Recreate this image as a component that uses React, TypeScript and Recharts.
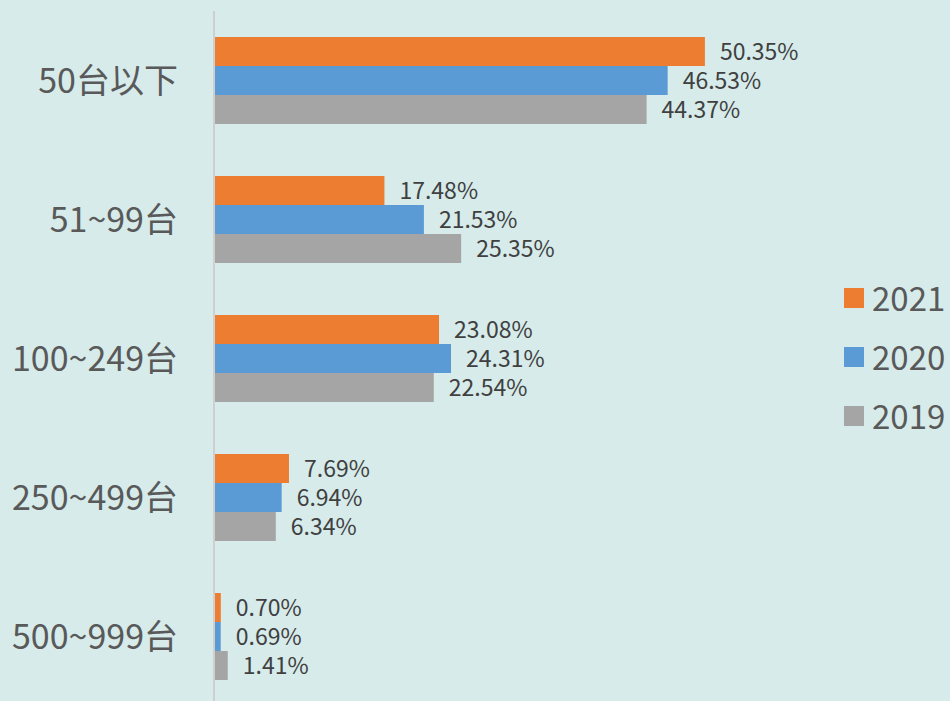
import React from "react";
import { BarChart, Bar, XAxis, YAxis, LabelList } from "recharts";

const categories = ["50台以下", "51~99台", "100~249台", "250~499台", "500~999台"];
const values2021 = [50.35, 17.48, 23.08, 7.69, 0.7];
const values2020 = [46.53, 21.53, 24.31, 6.94, 0.69];
const values2019 = [44.37, 25.35, 22.54, 6.34, 1.41];
const seriesNames = ["2021", "2020", "2019"];
const colors = ["#ED7D31", "#5B9BD5", "#A5A5A5"];

const data = categories.map((name, i) => ({
  name,
  y2021: values2021[i],
  y2020: values2020[i],
  y2019: values2019[i],
}));

const FONT = '"Noto Sans CJK TC", "Noto Sans", sans-serif';
const fmt = (v: any) => `${Number(v).toFixed(2)}%`;

const LegendBox = () => (
  <div style={{ position: "absolute", left: 844, top: 268, fontFamily: FONT }}>
    {seriesNames.map((n, i) => (
      <div key={n} style={{ display: "flex", alignItems: "center", height: 59 }}>
        <div style={{ width: 20, height: 20, background: colors[i], marginRight: 8 }} />
        <span style={{ fontSize: 33, color: "#595959", lineHeight: "33px" }}>{n}</span>
      </div>
    ))}
  </div>
);

export default function App() {
  const keys = ["y2021", "y2020", "y2019"];
  return (
    <div
      style={{
        position: "fixed",
        left: 0,
        top: 0,
        width: 950,
        height: 701,
        overflow: "hidden",
        background: "#D6EBEA",
      }}
    >
      <BarChart
        width={950}
        height={706}
        data={data}
        layout="vertical"
        margin={{ top: 11, right: 151, bottom: 0, left: 0 }}
        barCategoryGap={26}
        barGap={0}
      >
        <XAxis type="number" domain={[0, 60]} hide height={0} />
        <YAxis
          type="category"
          dataKey="name"
          width={214}
          tickLine={false}
          tickSize={0}
          tickMargin={36}
          axisLine={{ stroke: "#CFCFCF", strokeWidth: 2 }}
          tick={{ fill: "#595959", fontSize: 34, fontFamily: FONT }}
        />
        {keys.map((k, i) => (
          <Bar key={k} dataKey={k} name={seriesNames[i]} fill={colors[i]} isAnimationActive={false}>
            <LabelList
              dataKey={k}
              position="right"
              offset={15}
              formatter={fmt}
              style={{ fill: "#404040", fontSize: 23, fontFamily: FONT }}
            />
          </Bar>
        ))}
      </BarChart>
      <LegendBox />
    </div>
  );
}
